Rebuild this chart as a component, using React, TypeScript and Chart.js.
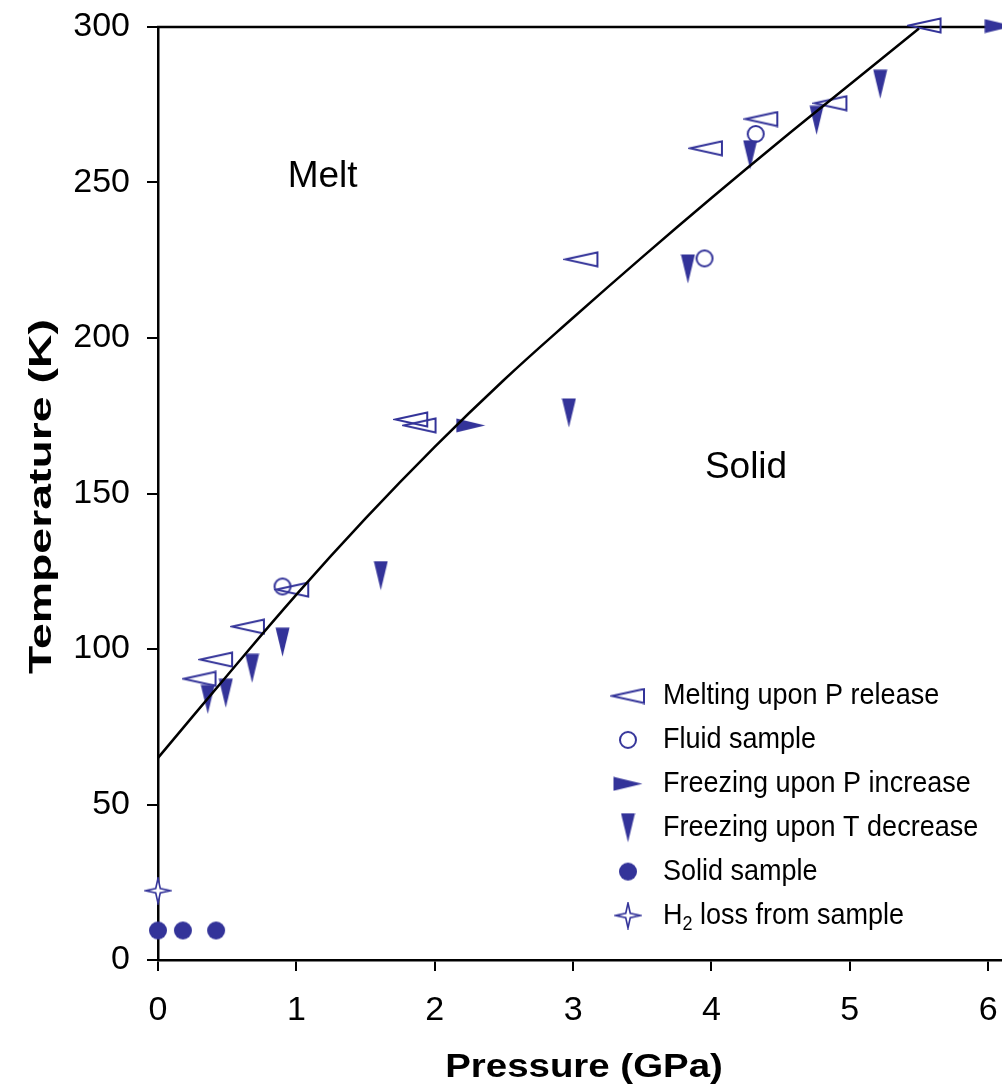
import React, { useEffect, useRef } from 'react';
import { Chart, registerables } from 'chart.js';

Chart.register(...registerables);

// ---- axis ticks ----
const xTicks = [0, 1, 2, 3, 4, 5, 6];
const yTicks = [0, 50, 100, 150, 200, 250, 300];

// ---- axis titles ----
const xTitle = 'Pressure (GPa)';
const yTitle = 'Temperature (K)';

// ---- melting curve ----
const curveP = [0, 0.5, 1, 1.5, 2, 2.5, 3, 3.5, 4, 4.5, 5, 5.5];
const curveT = [65, 91.5, 117.5, 142, 165, 186.5, 206.5, 226, 245, 263.5, 281.5, 299.5];

// ---- data series ----
const meltP = [0.3, 0.42, 0.65, 0.97, 1.83, 1.89, 3.06, 3.96, 4.36, 4.86, 5.54];
const meltT = [90.4, 96.6, 107.2, 119.1, 173.8, 171.9, 225.3, 261.0, 270.4, 275.5, 300.5];

const fluidP = [0.9, 3.95, 4.32];
const fluidT = [120.1, 225.6, 265.6];

const freezePP = [2.26, 6.08];
const freezePT = [171.9, 300.3];

const freezeTP = [0.36, 0.49, 0.68, 0.9, 1.61, 2.97, 3.83, 4.28, 4.76, 5.22];
const freezeTT = [83.8, 85.8, 93.8, 102.2, 123.6, 175.9, 222.2, 258.9, 270.0, 281.6];

const solidP = [0.0, 0.18, 0.42];
const solidT = [9.5, 9.5, 9.5];

const h2P = [0];
const h2T = [22.3];

const seriesLabels = [
  'Melting upon P release',
  'Fluid sample',
  'Freezing upon P increase',
  'Freezing upon T decrease',
  'Solid sample',
  'H₂ loss from sample',
];
const seriesKinds = ['melt', 'fluid', 'freezeP', 'freezeT', 'solid', 'star'];

// ---- region labels ----
const regionLabels = ['Melt', 'Solid'];
const regionP = [1.19, 4.25];
const regionT = [252.4, 158.8];

const BLUE = '#333399';
const FONT = "'Liberation Sans', Arial, Helvetica, sans-serif";

function makeMarker(kind: string): HTMLCanvasElement {
  const c = document.createElement('canvas');
  let w = 20, h = 20;
  if (kind === 'melt') { w = 36; h = 17; }
  else if (kind === 'freezeP') { w = 30; h = 15; }
  else if (kind === 'freezeT') { w = 15; h = 30; }
  else if (kind === 'star') { w = 28; h = 28; }
  c.width = w; c.height = h;
  const ctx = c.getContext('2d')!;
  ctx.strokeStyle = BLUE;
  ctx.fillStyle = BLUE;
  ctx.lineJoin = 'miter';
  if (kind === 'melt') {
    ctx.lineWidth = 2;
    ctx.beginPath();
    ctx.moveTo(2, 8.5);
    ctx.lineTo(34, 1.5);
    ctx.lineTo(34, 15.5);
    ctx.closePath();
    ctx.stroke();
  } else if (kind === 'fluid') {
    ctx.lineWidth = 2;
    ctx.beginPath();
    ctx.arc(10, 10, 8, 0, Math.PI * 2);
    ctx.stroke();
  } else if (kind === 'freezeP') {
    ctx.beginPath();
    ctx.moveTo(0.5, 0.5);
    ctx.lineTo(29.5, 7.5);
    ctx.lineTo(0.5, 14.5);
    ctx.closePath();
    ctx.fill();
  } else if (kind === 'freezeT') {
    ctx.beginPath();
    ctx.moveTo(0.5, 0.5);
    ctx.lineTo(14.5, 0.5);
    ctx.lineTo(7.5, 29.5);
    ctx.closePath();
    ctx.fill();
  } else if (kind === 'solid') {
    ctx.beginPath();
    ctx.arc(10, 10, 9, 0, Math.PI * 2);
    ctx.fill();
  } else if (kind === 'star') {
    const cx = 14, cy = 14, ro = 12.5, ri = 3.2;
    ctx.beginPath();
    for (let i = 0; i < 8; i++) {
      const a = -Math.PI / 2 + (i * Math.PI) / 4;
      const r = i % 2 === 0 ? ro : ri;
      const px = cx + r * Math.cos(a);
      const py = cy + r * Math.sin(a);
      if (i === 0) ctx.moveTo(px, py); else ctx.lineTo(px, py);
    }
    ctx.closePath();
    ctx.fillStyle = '#ffffff';
    ctx.fill();
    ctx.lineWidth = 1.6;
    ctx.stroke();
  }
  return c;
}

function pts(xs: number[], ys: number[]) {
  return xs.map((x, i) => ({ x, y: ys[i] }));
}

function zeroPad(scale: any) {
  scale.paddingTop = 0;
  scale.paddingBottom = 0;
  scale.paddingLeft = 0;
  scale.paddingRight = 0;
}

export default function App() {
  const ref = useRef<HTMLCanvasElement | null>(null);

  useEffect(() => {
    if (!ref.current) return;
    const markers: Record<string, HTMLCanvasElement> = {};
    seriesKinds.forEach((k) => { markers[k] = makeMarker(k); });

    const seriesData = [
      pts(meltP, meltT),
      pts(fluidP, fluidT),
      pts(freezePP, freezePT),
      pts(freezeTP, freezeTT),
      pts(solidP, solidT),
      pts(h2P, h2T),
    ];

    const scatterSets = seriesLabels.map((label, i) => ({
      type: 'scatter' as const,
      label,
      data: seriesData[i],
      pointStyle: markers[seriesKinds[i]],
      pointRadius: 10,
      showLine: false,
      clip: false as any,
    }));

    const framePlugin = {
      id: 'framePlugin',
      beforeDatasetsDraw(chart: any) {
        const { ctx, chartArea } = chart;
        ctx.save();
        ctx.strokeStyle = '#000';
        ctx.lineWidth = 2.5;
        ctx.beginPath();
        ctx.moveTo(chartArea.left - 1, chartArea.top);
        ctx.lineTo(chart.width, chartArea.top);
        ctx.stroke();
        ctx.restore();
      },
      afterDraw(chart: any) {
        const { ctx, chartArea } = chart;
        const xs = chart.scales.x;
        const ys = chart.scales.y;
        ctx.save();
        ctx.fillStyle = '#000';

        // axis titles (stretched along reading direction like the original)
        ctx.font = `bold 34px ${FONT}`;
        ctx.textAlign = 'center';
        ctx.textBaseline = 'alphabetic';
        ctx.save();
        ctx.translate(584, 1077);
        ctx.scale(1.13, 1);
        ctx.fillText(xTitle, 0, 0);
        ctx.restore();

        ctx.font = `bold 32px ${FONT}`;
        ctx.save();
        ctx.translate(51, (chartArea.top + chartArea.bottom) / 2 + 3);
        ctx.rotate(-Math.PI / 2);
        ctx.scale(1.45, 1);
        ctx.fillText(yTitle, 0, 0);
        ctx.restore();

        // region labels
        ctx.font = `37px ${FONT}`;
        ctx.textAlign = 'center';
        ctx.textBaseline = 'middle';
        regionLabels.forEach((t, i) => {
          ctx.fillText(t, xs.getPixelForValue(regionP[i]), ys.getPixelForValue(regionT[i]) + 2);
        });

        // legend
        const mx = 628, tx = 663, y0 = 696, dy = 43.9, sx = 0.9;
        ctx.textAlign = 'left';
        chart.data.datasets.forEach((ds: any) => {
          if (!(ds.pointStyle instanceof HTMLCanvasElement)) return;
          const idx = seriesLabels.indexOf(ds.label);
          const y = y0 + idx * dy;
          const m = ds.pointStyle as HTMLCanvasElement;
          ctx.drawImage(m, mx - m.width / 2, y - m.height / 2);
          ctx.fillStyle = '#000';
          const label: string = ds.label;
          const sub = label.indexOf('₂');
          ctx.save();
          ctx.translate(tx, y);
          ctx.scale(sx, 1);
          ctx.font = `30px ${FONT}`;
          if (sub >= 0) {
            const a = label.slice(0, sub);
            const b = label.slice(sub + 1);
            ctx.fillText(a, 0, 0);
            let x = ctx.measureText(a).width;
            ctx.font = `20px ${FONT}`;
            ctx.fillText('2', x, 9);
            x += ctx.measureText('2').width;
            ctx.font = `30px ${FONT}`;
            ctx.fillText(b, x, 0);
          } else {
            ctx.fillText(label, 0, 0);
          }
          ctx.restore();
        });
        ctx.restore();
      },
    };

    const chart = new Chart(ref.current, {
      type: 'scatter',
      data: {
        datasets: [
          {
            type: 'line' as const,
            label: 'fit',
            data: pts(curveP, curveT),
            borderColor: '#000',
            borderWidth: 2.5,
            pointRadius: 0,
            fill: false,
            showLine: true,
            tension: 0.4,
            clip: false as any,
          } as any,
          ...scatterSets,
        ],
      },
      options: {
        animation: false,
        responsive: false,
        events: [],
        layout: { autoPadding: false, padding: { top: 27, right: 0, left: 0, bottom: 0 } },
        plugins: {
          legend: { display: false },
          tooltip: { enabled: false },
        },
        scales: {
          x: {
            type: 'linear',
            min: 0,
            max: 6.1,
            afterBuildTicks: (scale: any) => {
              scale.ticks = xTicks.map((v) => ({ value: v }));
            },
            afterFit: (scale: any) => { scale.height = 132; zeroPad(scale); },
            ticks: {
              color: '#000',
              font: { family: FONT, size: 34, lineHeight: 2.14 },
              padding: 3,
              maxRotation: 0,
              autoSkip: false,
              callback: (v: any) => String(v),
            },
            grid: {
              display: true,
              drawOnChartArea: false,
              drawTicks: true,
              tickLength: 11,
              color: '#000',
              lineWidth: 2,
            },
            border: { display: true, color: '#000', width: 2.5 },
            title: { display: false, text: xTitle },
          },
          y: {
            type: 'linear',
            min: 0,
            max: 300,
            afterBuildTicks: (scale: any) => {
              scale.ticks = yTicks.map((v) => ({ value: v }));
            },
            afterFit: (scale: any) => { scale.width = 158; zeroPad(scale); },
            ticks: {
              color: '#000',
              font: { family: FONT, size: 34 },
              padding: 17,
              autoSkip: false,
              callback: (v: any) => String(v),
            },
            grid: {
              display: true,
              drawOnChartArea: false,
              drawTicks: true,
              tickLength: 11,
              color: '#000',
              lineWidth: 2,
            },
            border: { display: true, color: '#000', width: 2.5 },
            title: { display: false, text: yTitle },
          },
        },
      } as any,
      plugins: [framePlugin],
    });

    return () => chart.destroy();
  }, []);

  return (
    <div style={{ position: 'fixed', left: 0, top: 0, width: 1002, height: 1092, background: '#fff' }}>
      <canvas ref={ref} width={1002} height={1092} style={{ display: 'block', width: 1002, height: 1092 }} />
    </div>
  );
}
